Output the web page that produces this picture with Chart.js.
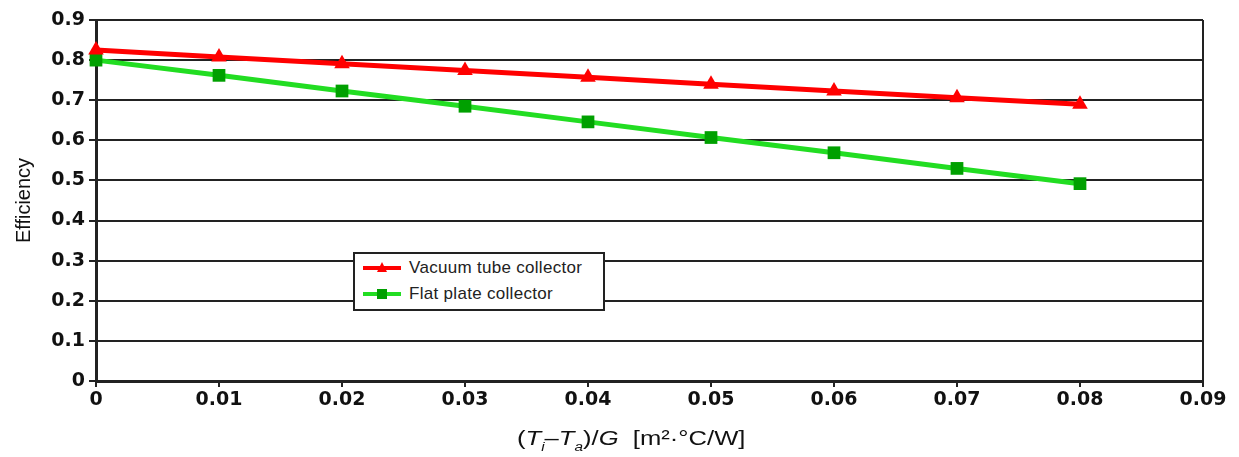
<!DOCTYPE html>
<html>
<head>
<meta charset="utf-8">
<script src="https://cdn.jsdelivr.net/npm/chart.js@4/dist/chart.umd.min.js"></script>
<style>
  html, body { margin: 0; padding: 0; background: #fff; }
  #wrap { position: relative; width: 1239px; height: 457px; }
  #xtitle {
    position: absolute; left: 0; width: 1262px; top: 427px; text-align: center;
    font-family: "Liberation Sans", Arial, sans-serif; font-size: 20px; color: #111;
  }
  #xtitle span { display: inline-block; transform: scaleX(1.28); }
  #xtitle sub { font-size: 12px; vertical-align: -6px; }
  #legend {
    position: absolute; left: 353px; top: 252px; width: 248px; height: 55px;
    border: 2px solid #222; background: #fff;
    font-family: "Liberation Sans", Arial, sans-serif; font-size: 17px; letter-spacing: 0.3px; color: #222;
  }
  .row { position: absolute; left: 7px; height: 20px; line-height: 20px; white-space: nowrap; }
  .row canvas { vertical-align: middle; margin-right: 7px; position: relative; top: -1px; }
</style>
</head>
<body>
<div id="wrap">
  <canvas id="efficiency" width="1239" height="457"></canvas>
  <div id="legend">
    <div class="row" style="top:4px"><canvas id="lgRed" width="40" height="14"></canvas>Vacuum tube collector</div>
    <div class="row" style="top:30px"><canvas id="lgGreen" width="40" height="14"></canvas>Flat plate collector</div>
  </div>
  <div id="xtitle"><span>(<i>T<sub>i</sub></i>–<i>T<sub>a</sub></i>)/<i>G</i>&nbsp;&nbsp;[m²·°C/W]</span></div>
</div>
<script>
(function () {
  'use strict';

  const xValues = [0, 0.01, 0.02, 0.03, 0.04, 0.05, 0.06, 0.07, 0.08];
  const vacuumTube = [0.825, 0.808, 0.791, 0.774, 0.757, 0.740, 0.723, 0.706, 0.690];
  const flatPlate = [0.800, 0.762, 0.723, 0.685, 0.646, 0.607, 0.569, 0.530, 0.492];

  const RED = '#ff0000';
  const GREEN_LINE = '#22dd22';
  const GREEN_MARK = '#00a000';
  const FONT = '"Liberation Sans", Arial, sans-serif';
  const TICK_FONT = '"DejaVu Sans", Verdana, sans-serif';

  function toPoints(ys) {
    return xValues.map((x, i) => ({ x, y: ys[i] }));
  }

  // Small legend samples
  function drawSample(id, lineColor, markColor, shape) {
    const ctx = document.getElementById(id).getContext('2d');
    ctx.strokeStyle = lineColor;
    ctx.lineWidth = 4;
    ctx.beginPath();
    ctx.moveTo(1, 7);
    ctx.lineTo(39, 7);
    ctx.stroke();
    ctx.fillStyle = markColor;
    if (shape === 'triangle') {
      ctx.beginPath();
      ctx.moveTo(20, 1);
      ctx.lineTo(25, 11);
      ctx.lineTo(15, 11);
      ctx.closePath();
      ctx.fill();
    } else {
      ctx.fillRect(15, 2, 10, 10);
    }
  }
  drawSample('lgRed', RED, RED, 'triangle');
  drawSample('lgGreen', GREEN_LINE, GREEN_MARK, 'rect');

  const ctx = document.getElementById('efficiency').getContext('2d');

  new Chart(ctx, {
    type: 'scatter',
    data: {
      datasets: [
        {
          label: 'Vacuum tube collector',
          data: toPoints(vacuumTube),
          showLine: true,
          clip: false,
          borderColor: RED,
          borderWidth: 5,
          pointStyle: 'triangle',
          pointRadius: 9,
          pointBackgroundColor: RED,
          pointBorderColor: RED,
          pointBorderWidth: 0
        },
        {
          label: 'Flat plate collector',
          data: toPoints(flatPlate),
          showLine: true,
          clip: false,
          borderColor: GREEN_LINE,
          borderWidth: 5,
          pointStyle: 'rect',
          pointRadius: 9,
          pointBackgroundColor: GREEN_MARK,
          pointBorderColor: GREEN_MARK,
          pointBorderWidth: 0
        }
      ]
    },
    options: {
      responsive: false,
      animation: false,
      layout: { padding: { top: 20, right: 36, left: 0, bottom: 0 } },
      plugins: {
        legend: { display: false },
        tooltip: { enabled: false }
      },
      scales: {
        x: {
          type: 'linear',
          min: 0,
          max: 0.09,
          ticks: {
            stepSize: 0.01,
            color: '#111',
            padding: 2,
            font: { family: TICK_FONT, size: 19, weight: 'bold' },
            callback: (v) => String(+v.toFixed(2))
          },
          grid: {
            color: (c) => (c.index === 9 ? '#222' : 'rgba(0,0,0,0)'),
            lineWidth: 2,
            tickColor: '#222',
            tickLength: 6
          },
          border: { color: '#222', width: 3 },
          afterFit: (scale) => { scale.height = 76; }
        },
        y: {
          min: 0,
          max: 0.9,
          ticks: {
            stepSize: 0.1,
            color: '#111',
            padding: 4,
            font: { family: TICK_FONT, size: 19, weight: 'bold' },
            callback: (v) => String(+v.toFixed(1))
          },
          grid: {
            color: '#222',
            lineWidth: 2,
            tickColor: '#222',
            tickLength: 7
          },
          border: { color: '#222', width: 3 },
          title: {
            display: true,
            text: 'Efficiency',
            color: '#111',
            padding: { top: 12, bottom: 0 },
            font: { family: FONT, size: 20 }
          },
          afterFit: (scale) => { scale.width = 96; }
        }
      }
    }
  });
})();
</script>
</body>
</html>
